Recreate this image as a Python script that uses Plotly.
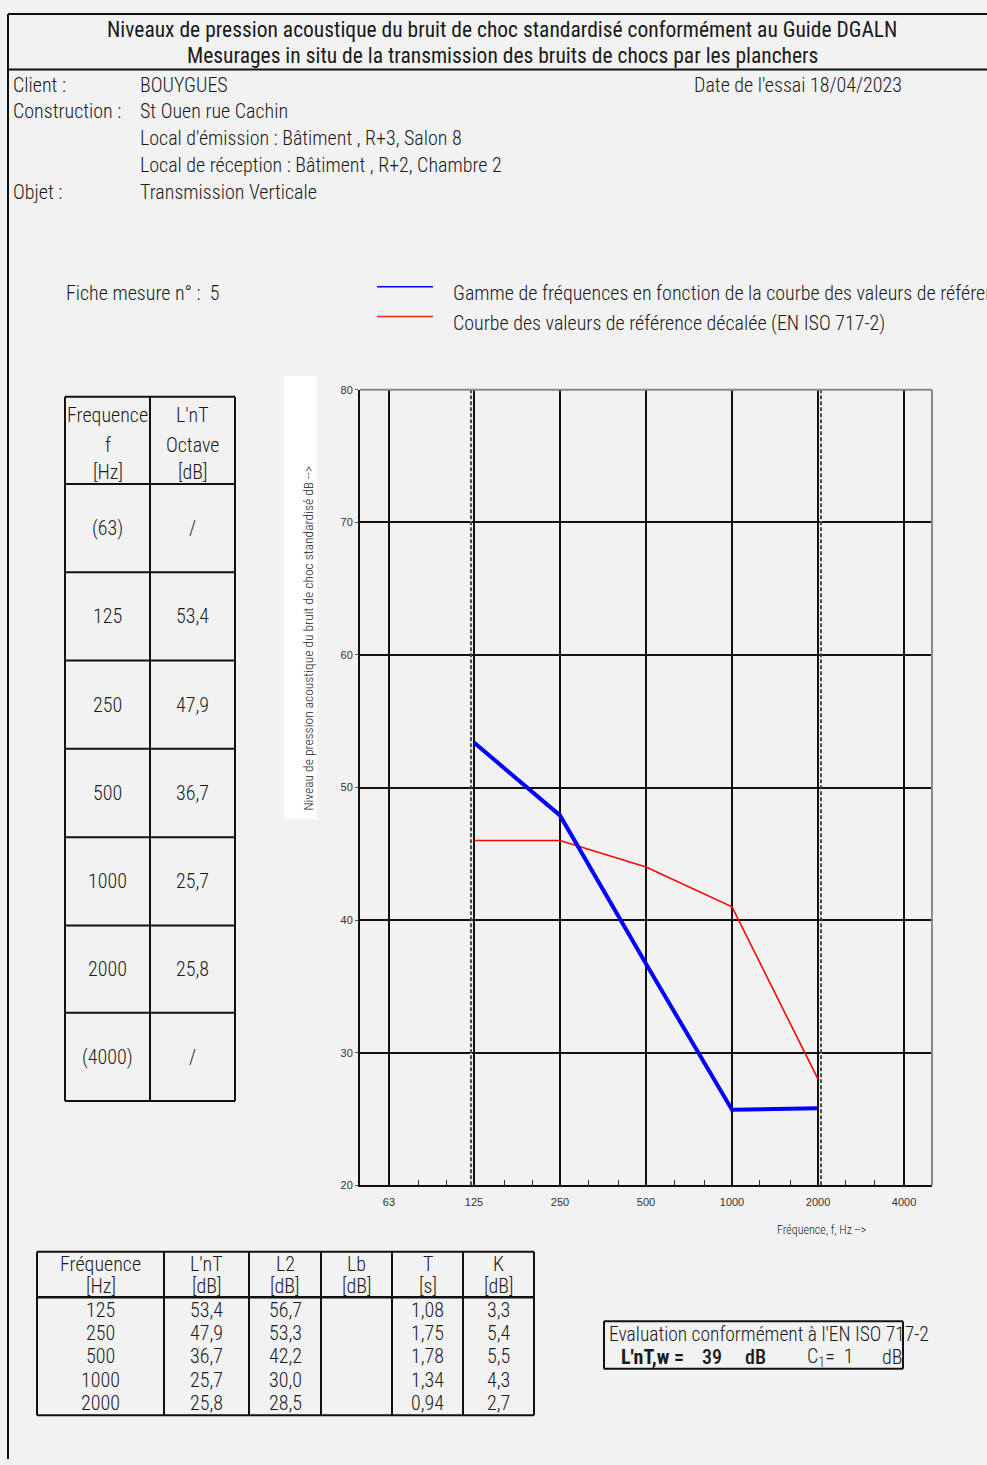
import plotly.graph_objects as go

# Octave-band results (Hz / dB)
freqs = [125, 250, 500, 1000, 2000]
lnt = [53.4, 47.9, 36.7, 25.7, 25.8]
l2 = [56.7, 53.3, 42.2, 30.0, 28.5]
reverb_t = [1.08, 1.75, 1.78, 1.34, 0.94]
k_corr = [3.3, 5.4, 5.5, 4.3, 2.7]
# Shifted reference curve (EN ISO 717-2)
ref_shifted = [46, 46, 44, 41, 28]
# Axis ticks
axis_freqs = [63, 125, 250, 500, 1000, 2000, 4000]
third_octave = [80, 100, 160, 200, 315, 400, 630, 800, 1250, 1600, 2500, 3150, 5000]
y_ticks = [20, 30, 40, 50, 60, 70, 80]
range_low, range_high = 125, 2000
octave_rows = ["(63)", "125", "250", "500", "1000", "2000", "(4000)"]
lnt_rating = 39
c1_value = 1

W, H = 987, 1465
FONT = "Roboto Condensed, Liberation Sans Narrow, sans-serif"
TICK_FONT = "Liberation Sans, Arial, sans-serif"
INK = "#1a1a1a"
BG = "#f2f2f2"
WEIGHT = 300
X_RANGE = [1.698, 3.700]
Y_RANGE = [20, 80]
PLOT_L, PLOT_R = 360, 932
PLOT_T, PLOT_B = 387, 1189


def px(x):
    return x / W


def py(y):
    return 1 - y / H


def fmt(v, nd=1):
    return f"{v:.{nd}f}".replace(".", ",")


fig = go.Figure()

fig.add_trace(go.Scatter(x=freqs, y=ref_shifted, mode="lines",
                         line=dict(color="#ff0000", width=1.6), showlegend=False))
fig.add_trace(go.Scatter(x=freqs, y=lnt, mode="lines",
                         line=dict(color="#0000ff", width=4), showlegend=False))

# Hidden copies of the axes, nudged a few pixels left / right, used to place
# the dashed range-limit lines beside the solid grid lines
shift = 3.0
hidden_x = dict(type="log", range=X_RANGE, visible=False, showgrid=False,
                zeroline=False, fixedrange=True, anchor="y2")

fig.update_layout(
    width=W, height=H, margin=dict(l=0, r=0, t=0, b=0),
    paper_bgcolor=BG, plot_bgcolor="rgba(0,0,0,0)",
    showlegend=False,
    xaxis=dict(
        type="log", domain=[px(PLOT_L), px(PLOT_R)], range=X_RANGE,
        tickmode="array", tickvals=axis_freqs, ticktext=[str(f) for f in axis_freqs],
        showgrid=True, gridcolor="#111111", gridwidth=2,
        showline=True, linecolor="#111111", linewidth=2,
        ticks="", ticklabelstandoff=6,
        tickfont=dict(family=TICK_FONT, size=11, color="#333"),
        minor=dict(tickmode="array", tickvals=third_octave, ticks="inside", ticklen=5,
                   tickcolor="#333", tickwidth=1, showgrid=False),
        zeroline=False, fixedrange=True,
    ),
    xaxis2=dict(domain=[px(PLOT_L - shift), px(PLOT_R - shift)], **hidden_x),
    xaxis3=dict(domain=[px(PLOT_L + shift), px(PLOT_R + shift)], **hidden_x),
    yaxis=dict(
        domain=[py(PLOT_B), py(PLOT_T)], range=Y_RANGE,
        tickmode="array", tickvals=y_ticks,
        showgrid=True, gridcolor="#111111", gridwidth=2,
        showline=True, linecolor="#111111", linewidth=2,
        ticks="outside", ticklen=3, tickcolor="#555",
        tickfont=dict(family=TICK_FONT, size=11, color="#333"),
        zeroline=False, fixedrange=True,
    ),
    yaxis2=dict(domain=[py(PLOT_B), py(PLOT_T)], range=Y_RANGE, visible=False,
                showgrid=False, zeroline=False, fixedrange=True, anchor="x2"),
)


def line(x0, y0, x1, y1, w=2, color="#111111", dash=None):
    fig.add_shape(type="line", xref="paper", yref="paper",
                  x0=px(x0), y0=py(y0), x1=px(x1), y1=py(y1),
                  line=dict(color=color, width=w, dash=dash))


def txt(x, y, s, size=20, anchor="left", color=INK, weight=WEIGHT, **kw):
    font = dict(family=FONT, size=size, color=color, weight=weight)
    fig.add_annotation(x=px(x), y=py(y), xref="paper", yref="paper", text=s,
                       showarrow=False, xanchor=anchor, yanchor="middle",
                       font=font, **kw)


# Dashed limits of the evaluated frequency range (black dashes on white)
for f, axis_ref in ((range_low, "x2"), (range_high, "x3")):
    for color, dash in (("white", None), ("#111111", "4px,2px")):
        fig.add_shape(type="line", xref=axis_ref, yref="y2", x0=f, x1=f,
                      y0=Y_RANGE[0], y1=Y_RANGE[1],
                      line=dict(color=color, width=1.5, dash=dash))

# Plot frame: grey top/right border
line(PLOT_L, PLOT_T, PLOT_R, PLOT_T, w=2, color="#8a8a8a")
line(PLOT_R, PLOT_T, PLOT_R, PLOT_B, w=2, color="#8a8a8a")

# Page frame
line(8, 8, 987, 8, w=2)
line(8, 8, 8, 1465, w=2)
line(8, 64, 987, 64, w=2)

# Header
txt(502, 24, "Niveaux de pression acoustique du bruit de choc standardisé conformément au Guide DGALN",
    size=21.5, anchor="center", weight=400)
txt(502, 50, "Mesurages in situ de la transmission des bruits de chocs par les planchers",
    size=21.5, anchor="center", weight=400)
txt(11, 80, "Client :")
txt(138, 80, "BOUYGUES")
txt(692, 80, "Date de l'essai 18/04/2023")
txt(11, 106, "Construction :")
txt(138, 106, "St Ouen rue Cachin")
txt(138, 133, "Local d'émission : Bâtiment , R+3, Salon 8")
txt(138, 160, "Local de réception : Bâtiment , R+2, Chambre 2")
txt(11, 188, "Objet :")
txt(138, 188, "Transmission Verticale")

txt(64, 289, "Fiche mesure n° :  5")

# Legend
line(377, 283, 433, 283, w=1.5, color="#0000ff")
line(377, 313, 433, 313, w=1.5, color="#ff2020")
txt(451, 289, "Gamme de fréquences en fonction de la courbe des valeurs de référence")
txt(451, 320, "Courbe des valeurs de référence décalée (EN ISO 717-2)")

# Y axis title in a white box
fig.add_shape(type="rect", xref="paper", yref="paper",
              x0=px(284), x1=px(317), y0=py(820), y1=py(373),
              fillcolor="white", line=dict(width=0), layer="below")
fig.add_annotation(x=px(308), y=py(814), xref="paper", yref="paper",
                   text="Niveau de pression acoustique du bruit de choc standardisé dB -->",
                   showarrow=False, textangle=-90, xanchor="center", yanchor="bottom",
                   font=dict(family=FONT, size=13.5, color=INK, weight=WEIGHT))

# X axis title
txt(775, 1234, "Fréquence, f, Hz -->", size=12)

# Left octave table
tx0, tx1, tx2 = 65, 150, 235
row_edges = [394, 482, 571, 660, 749, 838, 927, 1015, 1104]
for yy in row_edges:
    line(tx0, yy, tx2, yy, w=2)
for xx in (tx0, tx1, tx2):
    line(xx, 394, xx, 1104, w=2)
for yy, a, b in ((412, "Frequence", "L'nT"), (443, "f", "Octave"), (470, "[Hz]", "[dB]")):
    txt(107.5, yy, a, anchor="center")
    txt(192.5, yy, b, anchor="center")
left_vals = ["/"] + [fmt(v) for v in lnt] + ["/"]
for i, (f, v) in enumerate(zip(octave_rows, left_vals)):
    yc = (row_edges[i + 1] + row_edges[i + 2]) / 2
    txt(107.5, yc, f, anchor="center")
    txt(192.5, yc, v, anchor="center")

# Bottom results table
cols = [37, 164, 249, 321, 392, 463, 534]
for xx in cols:
    line(xx, 1256, xx, 1421, w=2)
line(37, 1256, 534, 1256, w=2)
line(37, 1302, 534, 1302, w=2.5)
line(37, 1421, 534, 1421, w=2)
centers = [(cols[i] + cols[i + 1]) / 2 for i in range(6)]
heads = [("Fréquence", "[Hz]"), ("L'nT", "[dB]"), ("L2", "[dB]"), ("Lb", "[dB]"), ("T", "[s]"), ("K", "[dB]")]
for c, (h1, h2) in zip(centers, heads):
    txt(c, 1268, h1, anchor="center", borderpad=0)
    txt(c, 1291, h2, anchor="center", borderpad=0)
row_y = [1315, 1338, 1361, 1385, 1409]
for i, yy in enumerate(row_y):
    vals = [str(freqs[i]), fmt(lnt[i]), fmt(l2[i]), "", fmt(reverb_t[i], 2), fmt(k_corr[i])]
    for c, v in zip(centers, vals):
        if v:
            txt(c, yy, v, anchor="center", borderpad=0)

# Single-number rating box
line(604, 1326, 903, 1326, w=2)
line(604, 1326, 604, 1374, w=2)
line(903, 1326, 903, 1374, w=2)
line(604, 1374, 903, 1374, w=2)
txt(607, 1339, "Evaluation conformément à l'EN ISO 717-2", size=19.5)
txt(619, 1362, "<b>L'nT,w =</b>", weight=700)
txt(700, 1362, f"{lnt_rating}", weight=500)
txt(743, 1362, "dB", weight=500)
txt(805, 1362, f"C<sub>1</sub>=  {c1_value}")
txt(880, 1362, "dB")

fig.write_html("out.html")
